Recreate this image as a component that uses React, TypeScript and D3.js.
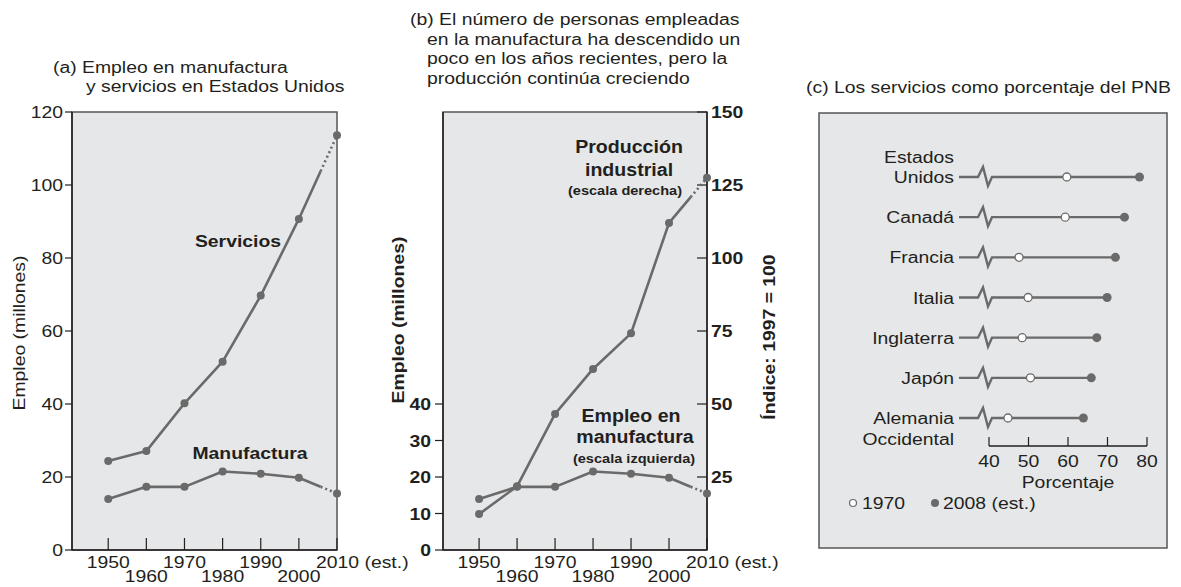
import React from 'react'
import * as d3 from 'd3'

// ---- data ----
const YEARS = [1950, 1960, 1970, 1980, 1990, 2000, 2010]
const SERVICIOS = [24.4, 27.1, 40.2, 51.6, 69.7, 90.7, 113.6]
const MANUFACTURA = [14.0, 17.3, 17.3, 21.5, 20.9, 19.8, 15.5]
const PRODUCCION = [12.3, 21.8, 46.6, 62.0, 74.2, 112.0, 127.5]

const EMPLEO_TICKS_A = [0, 20, 40, 60, 80, 100, 120]
const EMPLEO_TICKS_B = [0, 10, 20, 30, 40]
const INDICE_TICKS = [25, 50, 75, 100, 125, 150]

const PAISES = ['Estados Unidos', 'Canadá', 'Francia', 'Italia', 'Inglaterra', 'Japón', 'Alemania Occidental']
const PAIS_LINEAS = [['Estados', 'Unidos'], ['Canadá'], ['Francia'], ['Italia'], ['Inglaterra'], ['Japón'], ['Alemania', 'Occidental']]
const PAIS_LINEA_BASE = [1, 0, 0, 0, 0, 0, 0]
const SERV_1970 = [59.7, 59.3, 47.6, 49.9, 48.4, 50.5, 44.8]
const SERV_2008 = [78.1, 74.3, 72.0, 69.9, 67.3, 65.9, 63.9]
const PCT_TICKS = [40, 50, 60, 70, 80]

// ---- style ----
const INK = '#231f20'
const LINE = '#6a6a6a'
const BOX = '#555657'
const FILL = '#e6e7e8'
const FONT = '"Liberation Sans", Arial, Helvetica, sans-serif'
const SX = 1.12 // the scanned type is a bit wider than Arial
const SPLIT = 0.57 // where the solid line turns dotted (estimate)

function T({ x, y, rot = 0, anchor = 'start', size = 17.3, bold = false, children }: any) {
  return (
    <text
      transform={`translate(${x},${y}) rotate(${rot}) scale(${SX},1)`}
      textAnchor={anchor}
      fontSize={size}
      fontWeight={bold ? 'bold' : 'normal'}
      fill={INK}
    >
      {children}
    </text>
  )
}

function Series({ values, x, y }: any) {
  const pts: [number, number][] = YEARS.map((yr, i) => [x(yr), y(values[i])])
  const n = pts.length
  const a = pts[n - 2]
  const b = pts[n - 1]
  const m: [number, number] = [a[0] + (b[0] - a[0]) * SPLIT, a[1] + (b[1] - a[1]) * SPLIT]
  const line = d3.line()
  return (
    <g>
      <path d={line([...pts.slice(0, n - 1), m]) || ''} fill="none" stroke={LINE} strokeWidth={2.6} strokeLinejoin="round" />
      <path d={line([m, b]) || ''} fill="none" stroke={LINE} strokeWidth={2.6} strokeDasharray="2 3" />
      {pts.map((p, i) => <circle key={i} cx={p[0]} cy={p[1]} r={4} fill={LINE} />)}
    </g>
  )
}

function YearAxis({ x, y0 }: any) {
  return (
    <g>
      {YEARS.map((yr, i) => (
        <g key={yr}>
          <line x1={x(yr)} x2={x(yr)} y1={y0} y2={y0 - 12} stroke={INK} strokeWidth={1.2} />
          {yr === 2010 ? (
            <T x={x(yr) - 21} y={568}>2010 (est.)</T>
          ) : (
            <T x={x(yr)} y={i % 2 === 0 ? 568 : 582} anchor="middle">{yr}</T>
          )}
        </g>
      ))}
    </g>
  )
}

export default function App() {
  const bottom = 550
  const top = 112

  const yL = d3.scaleLinear().domain([0, 120]).range([bottom, top])
  const yR = d3.scaleLinear().domain([0, 150]).range([bottom, top])

  const xA = d3.scaleLinear().domain([1940.5, 2010]).range([72, 337])
  const xB = d3.scaleLinear().domain([1940.5, 2010]).range([443, 707])

  const xC = d3.scaleLinear().domain([40, 80]).range([989, 1147])
  const rowY = d3.scalePoint<string>().domain(PAISES).range([177, 418])
  const axisC = 446

  return (
    <svg width={1181} height={587} style={{ position: 'absolute', left: 0, top: 0, fontFamily: FONT, background: '#fff' }}>
      {/* ---------- (a) ---------- */}
      <T x={53} y={73}>(a) Empleo en manufactura</T>
      <T x={86} y={92}>y servicios en Estados Unidos</T>
      <rect x={xA.range()[0]} y={top} width={xA.range()[1] - xA.range()[0]} height={bottom - top} fill={FILL} stroke={BOX} strokeWidth={1.5} />
      <line x1={xA.range()[0]} x2={xA.range()[0]} y1={top} y2={bottom} stroke={INK} strokeWidth={1.5} />
      <line x1={xA.range()[0]} x2={xA.range()[1]} y1={bottom} y2={bottom} stroke={INK} strokeWidth={1.5} />
      {EMPLEO_TICKS_A.map((v) => (
        <g key={v}>
          <line x1={65} x2={72} y1={yL(v)} y2={yL(v)} stroke={INK} strokeWidth={1.2} />
          <T x={63} y={yL(v) + 6} anchor="end">{v}</T>
        </g>
      ))}
      <T x={25} y={333} rot={-90} anchor="middle">Empleo (millones)</T>
      <YearAxis x={xA} y0={bottom} />
      <Series values={SERVICIOS} x={xA} y={yL} />
      <Series values={MANUFACTURA} x={xA} y={yL} />
      <T x={238} y={247} anchor="middle" bold>Servicios</T>
      <T x={250} y={459} anchor="middle" bold>Manufactura</T>

      {/* ---------- (b) ---------- */}
      <T x={410} y={25}>(b) El número de personas empleadas</T>
      <T x={427} y={45}>en la manufactura ha descendido un</T>
      <T x={427} y={64}>poco en los años recientes, pero la</T>
      <T x={427} y={84}>producción continúa creciendo</T>
      <rect x={xB.range()[0]} y={top} width={xB.range()[1] - xB.range()[0]} height={bottom - top} fill={FILL} stroke={BOX} strokeWidth={1.5} />
      <line x1={xB.range()[0]} x2={xB.range()[0]} y1={top} y2={bottom} stroke={INK} strokeWidth={1.5} />
      <line x1={xB.range()[0]} x2={xB.range()[1]} y1={bottom} y2={bottom} stroke={INK} strokeWidth={1.5} />
      <line x1={xB.range()[1]} x2={xB.range()[1]} y1={top} y2={bottom} stroke={INK} strokeWidth={1.5} />
      {EMPLEO_TICKS_B.map((v) => (
        <g key={v}>
          <line x1={435} x2={443} y1={yL(v)} y2={yL(v)} stroke={INK} strokeWidth={1.2} />
          <T x={431} y={yL(v) + 6} anchor="end" bold>{v}</T>
        </g>
      ))}
      {INDICE_TICKS.map((v) => (
        <g key={v}>
          <line x1={697} x2={707} y1={yR(v)} y2={yR(v)} stroke={INK} strokeWidth={1.2} />
          <T x={711} y={yR(v) + 6} bold>{v}</T>
        </g>
      ))}
      <T x={404} y={320} rot={-90} anchor="middle" bold>Empleo (millones)</T>
      <T x={775} y={337} rot={-90} anchor="middle" bold>Índice: 1997 = 100</T>
      <YearAxis x={xB} y0={bottom} />
      <Series values={MANUFACTURA} x={xB} y={yL} />
      <Series values={PRODUCCION} x={xB} y={yR} />
      <T x={629} y={153} anchor="middle" size={17.5} bold>Producción</T>
      <T x={629} y={176} anchor="middle" size={17.5} bold>industrial</T>
      <T x={625} y={195} anchor="middle" size={13} bold>(escala derecha)</T>
      <T x={631} y={422} anchor="middle" size={17.5} bold>Empleo en</T>
      <T x={635} y={443} anchor="middle" size={17.5} bold>manufactura</T>
      <T x={634} y={463} anchor="middle" size={13} bold>(escala izquierda)</T>

      {/* ---------- (c) ---------- */}
      <T x={806} y={93}>(c) Los servicios como porcentaje del PNB</T>
      <rect x={819} y={113} width={348} height={435} fill={FILL} stroke={BOX} strokeWidth={1.5} />
      {PAISES.map((p, i) => {
        const y = rowY(p) as number
        const z = xC(40) - 11
        const lines = PAIS_LINEAS[i]
        const base = PAIS_LINEA_BASE[i]
        return (
          <g key={p}>
            {lines.map((t, j) => (
              <T key={j} x={954} y={y + 6 + (j - base) * 20.5} anchor="end">{t}</T>
            ))}
            <path
              d={`M959,${y}H${z}L${z + 5},${y - 10}L${z + 10},${y + 9}L${z + 14},${y}H${xC(SERV_2008[i])}`}
              fill="none"
              stroke={LINE}
              strokeWidth={2.4}
              strokeLinejoin="miter"
            />
            <circle cx={xC(SERV_2008[i])} cy={y} r={4.5} fill={LINE} />
            <circle cx={xC(SERV_1970[i])} cy={y} r={4} fill="#fff" stroke={LINE} strokeWidth={1.3} />
          </g>
        )
      })}
      <line x1={xC(40)} x2={xC(80)} y1={axisC} y2={axisC} stroke={INK} strokeWidth={1.3} />
      {PCT_TICKS.map((v) => (
        <g key={v}>
          <line x1={xC(v)} x2={xC(v)} y1={axisC} y2={axisC - 9} stroke={INK} strokeWidth={1.2} />
          <T x={xC(v)} y={467} anchor="middle">{v}</T>
        </g>
      ))}
      <T x={xC(60)} y={488} anchor="middle">Porcentaje</T>
      <circle cx={853} cy={503} r={3.5} fill="#fff" stroke={LINE} strokeWidth={1.2} />
      <T x={862} y={509}>1970</T>
      <circle cx={935} cy={503} r={4} fill={LINE} />
      <T x={943} y={509}>2008 (est.)</T>
    </svg>
  )
}
